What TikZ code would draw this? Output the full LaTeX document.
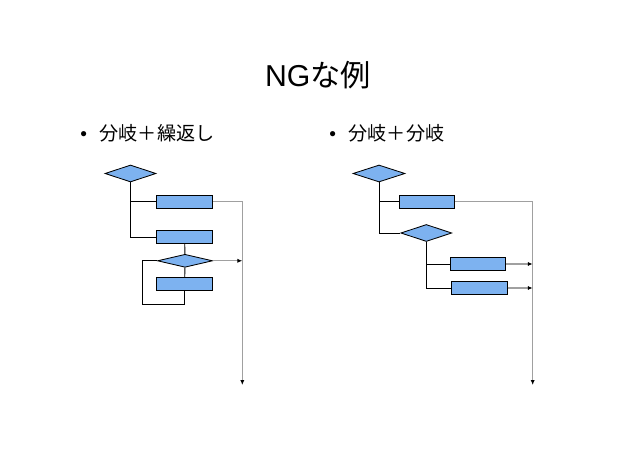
\documentclass[tikz,border=0pt]{standalone}
\usepackage{fontspec}
\setmainfont{Liberation Sans}
\newfontfamily\cjk{Noto Sans CJK JP}
\usetikzlibrary{arrows.meta,shapes.geometric}
\definecolor{boxblue}{RGB}{125,178,240}
\definecolor{flowgray}{RGB}{160,160,160}

\begin{document}
\begin{tikzpicture}[x=0.025cm,y=-0.025cm,
  cond/.style={diamond,draw,fill=boxblue,inner sep=0pt,line width=0.6pt},
  proc/.style={rectangle,draw,fill=boxblue,inner sep=0pt,line width=0.6pt,
    minimum width=1.4cm,minimum height=0.325cm},
  flow/.style={line width=0.6pt},
  exitline/.style={flowgray,line width=0.8pt},
  tip/.style={-{Latex[black,length=3.5pt,width=3pt]}},
  lab/.style={font=\fontsize{13.6pt}{16pt}\selectfont,anchor=west,inner sep=0pt}]
\useasboundingbox (0,0) rectangle (638,452);
% headings
\node[font=\fontsize{21.5pt}{26pt}\selectfont] (title) at (318,75) {NG{\cjk な例}};
\node[lab] (bulletL) at (80,133) {\textbullet\hspace{9pt}{\cjk 分岐＋繰返し}};
\node[lab] (bulletR) at (329,133) {\textbullet\hspace{9pt}{\cjk 分岐＋分岐}};
% branch + loop
\node[cond,minimum width=1.275cm,minimum height=0.425cm] (d1) at (130.5,173.5) {};
\node[proc] (r1) at (184.7,201.8) {};
\node[proc] (r2) at (184.7,237) {};
\node[cond,minimum width=1.375cm,minimum height=0.325cm] (d2) at (185,260.8) {};
\node[proc] (r3) at (184.7,283.8) {};
\coordinate (endL) at (242.3,385);
\coordinate (loopL) at (142.3,304.3);
\draw[flow] (d1.south) |- (r2.west);
\draw[flow] (d1.south |- r1.west) -- (r1.west);
\draw[flow] (r2) -- (d2);
\draw[flow] (d2) -- (r3);
\draw[flow] (d2.west) -| (loopL) -| (r3.south);
\draw[exitline,tip] (r1.east) -| (endL);
\draw[exitline,tip] (d2.east) -- (d2.east -| endL);
% branch + branch
\node[cond,minimum width=1.3cm,minimum height=0.425cm] (dA) at (379,173.5) {};
\node[proc,minimum width=1.375cm] (rA) at (427,201.8) {};
\node[cond,minimum width=1.275cm,minimum height=0.425cm] (dB) at (426.3,233) {};
\node[proc,minimum width=1.375cm] (rB) at (478,264) {};
\node[proc] (rC) at (479.3,288) {};
\coordinate (endR) at (532.7,385);
\draw[flow] (dA.south) |- (dB.west);
\draw[flow] (dA.south |- rA.west) -- (rA.west);
\draw[flow] (dB.south) |- (rC.west);
\draw[flow] (dB.south |- rB.west) -- (rB.west);
\draw[exitline,tip] (rA.east) -| (endR);
\draw[exitline,tip] (rB.east) -- (rB.east -| endR);
\draw[exitline,tip] (rC.east) -- (rC.east -| endR);
\end{tikzpicture}
\end{document}
